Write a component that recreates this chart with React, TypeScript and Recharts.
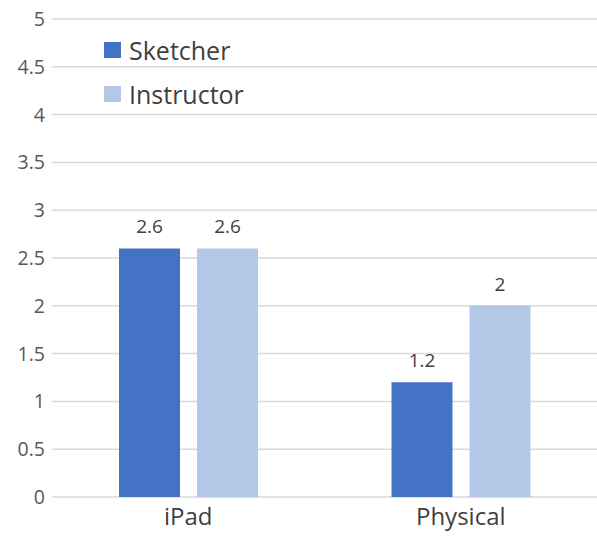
import React from "react";
import { BarChart, Bar, XAxis, YAxis, CartesianGrid, LabelList } from "recharts";

const categories = ["iPad", "Physical"];
const sketcher = [2.6, 1.2];
const instructor = [2.6, 2];
const yTicks = [0, 0.5, 1, 1.5, 2, 2.5, 3, 3.5, 4, 4.5, 5];
const seriesNames = ["Sketcher", "Instructor"] as const;

const data = categories.map((c, i) => ({ name: c, Sketcher: sketcher[i], Instructor: instructor[i] }));

const FONT = "'Open Sans', sans-serif";
const COLORS: Record<string, string> = { Sketcher: "#4472C4", Instructor: "#B4C7E7" };

export default function App() {
  return (
    <div style={{ position: "absolute", left: 0, top: 0, width: 597, height: 536, background: "#fff" }}>
      <BarChart
        width={597}
        height={536}
        data={data}
        margin={{ top: 19, right: 0, bottom: 0, left: 0 }}
        barSize={61}
        barGap={17}
      >
        <CartesianGrid vertical={false} stroke="#d9d9d9" strokeWidth={1.5} />
        <XAxis
          dataKey="name"
          height={39}
          axisLine={false}
          tickLine={false}
          tick={{ fontSize: 24, fill: "#404040", fontFamily: FONT }}
          tickMargin={5}
        />
        <YAxis
          width={52}
          domain={[0, 5]}
          ticks={yTicks}
          interval={0}
          axisLine={false}
          tickLine={false}
          tick={{ fontSize: 19.5, fill: "#595959", fontFamily: FONT }}
          tickMargin={1}
        />
        <Bar dataKey="Sketcher" fill={COLORS.Sketcher} isAnimationActive={false}>
          <LabelList dataKey="Sketcher" position="top" offset={15} style={{ fontSize: 19, fill: "#404040", fontFamily: FONT }} />
        </Bar>
        <Bar dataKey="Instructor" fill={COLORS.Instructor} isAnimationActive={false}>
          <LabelList dataKey="Instructor" position="top" offset={15} style={{ fontSize: 19, fill: "#404040", fontFamily: FONT }} />
        </Bar>
      </BarChart>
      <div style={{ position: "absolute", left: 104, top: 30, fontFamily: FONT }}>
        {seriesNames.map((k) => (
          <div key={k} style={{ display: "flex", alignItems: "center", height: 40, marginBottom: 4 }}>
            <div style={{ width: 17, height: 16, background: COLORS[k], marginRight: 8 }} />
            <span style={{ fontSize: 25, color: "#404040", lineHeight: "40px" }}>{k}</span>
          </div>
        ))}
      </div>
    </div>
  );
}
